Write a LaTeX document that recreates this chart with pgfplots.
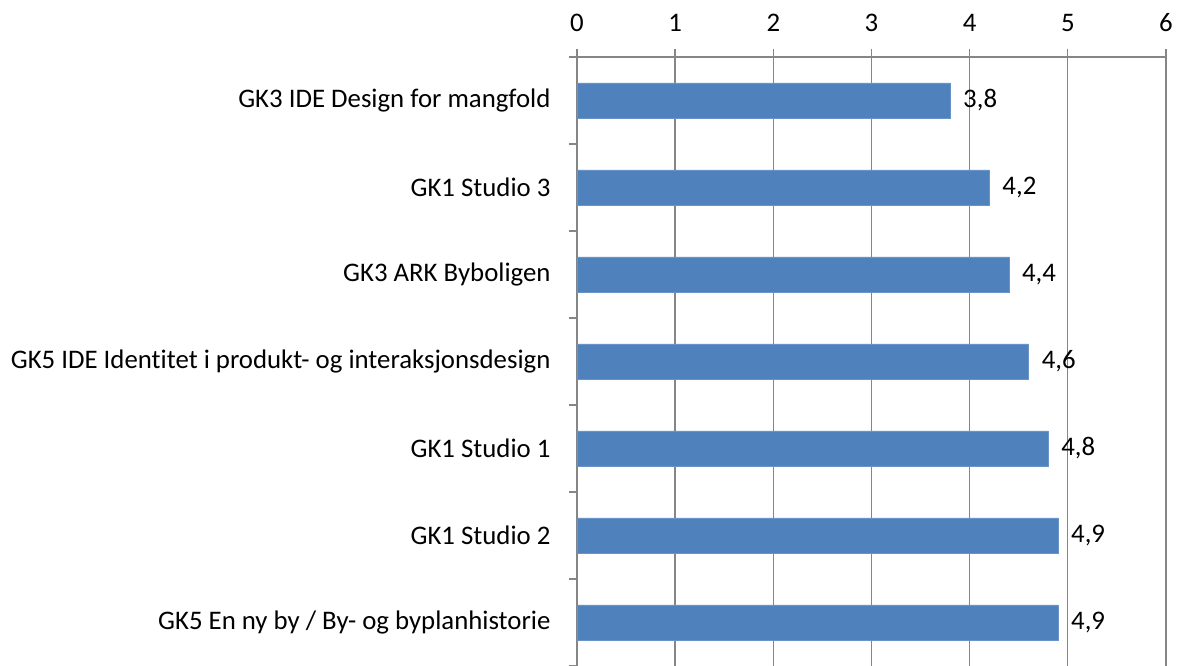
\documentclass[border=0pt]{standalone}
\usepackage{pgfplots}
\pgfplotsset{compat=1.18}
\usepackage{fontspec}
\setmainfont{Carlito}[Ligatures=NoCommon]
\definecolor{barblue}{HTML}{4F81BD}
\definecolor{gridgray}{HTML}{868686}
\begin{document}
\fontsize{20.1}{24}\selectfont
\begin{tikzpicture}[x=0.75pt,y=0.75pt]
\useasboundingbox (-577,0) rectangle (605,666);
\begin{axis}[
  at={(0pt,0pt)}, anchor=south west,
  scale only axis, width=441.75pt, height=456.75pt,
  xmin=0, xmax=6, ymin=0.5, ymax=7.5,
  axis x line=top, axis y line=left,
  axis line style={draw=gridgray, line width=1pt, -},
  xtick={0,1,2,3,4,5,6},
  xmajorgrids,
  major grid style={draw=gridgray, line width=1pt},
  tick align=outside,
  major tick length=6pt,
  tick style={draw=gridgray, line width=1pt},
  ytick={0.5,1.5,2.5,3.5,4.5,5.5,6.5,7.5},
  yticklabels={},
  extra y ticks={1,2,3,4,5,6,7},
  extra y tick labels={GK5 En ny by / By- og byplanhistorie, GK1 Studio 2, GK1 Studio 1, GK5 IDE Identitet i produkt- og interaksjonsdesign, GK3 ARK Byboligen, GK1 Studio 3, GK3 IDE Design for mangfold},
  extra y tick style={major tick length=0pt, grid=none},
  /pgf/number format/assume math mode=true,
  tick label style={font=\fontsize{20.1}{24}\selectfont, text=black},
  yticklabel style={xshift=-13pt},
  xticklabel style={yshift=6pt},
  clip=false,
]
\addplot[xbar, bar width=26.25pt, fill=barblue, draw=barblue!85!white,
  nodes near coords,
  nodes near coords align={horizontal},
  every node near coord/.append style={font=\fontsize{20.1}{24}\selectfont, text=black, xshift=3pt,
    /pgf/number format/.cd, fixed, fixed zerofill, precision=1, use comma, assume math mode=true}]
  coordinates {(3.8,7) (4.2,6) (4.4,5) (4.6,4) (4.8,3) (4.9,2) (4.9,1)};
\end{axis}
\end{tikzpicture}
\end{document}
